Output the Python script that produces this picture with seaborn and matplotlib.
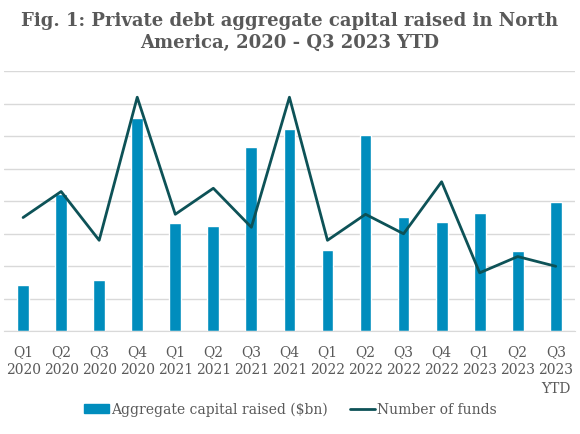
import pandas as pd
import seaborn as sns
import matplotlib.pyplot as plt
from matplotlib.lines import Line2D
from matplotlib.patches import Patch

quarters = ["Q1\n2020", "Q2\n2020", "Q3\n2020", "Q4\n2020",
            "Q1\n2021", "Q2\n2021", "Q3\n2021", "Q4\n2021",
            "Q1\n2022", "Q2\n2022", "Q3\n2022", "Q4\n2022",
            "Q1\n2023", "Q2\n2023", "Q3\n2023\nYTD"]
capital_raised = [14.3, 42.2, 15.9, 65.5, 33.3, 32.3, 56.8, 62.3,
                  25.1, 60.4, 35.3, 33.5, 36.5, 24.7, 39.7]
num_funds = [17.5, 21.5, 14, 36, 18, 22, 16, 36, 14, 18, 15, 23, 9, 11.5, 10]

bar_color = "#008dbd"
line_color = "#0d5257"
text_color = "#595959"

df = pd.DataFrame({"quarter": quarters, "capital": capital_raised, "funds": num_funds})

sns.set_style("white")
plt.rcParams["font.family"] = ["DejaVu Serif"]

fig = plt.figure(figsize=(5.8, 4.35), dpi=100)
ax = fig.add_axes([0.007, 0.236, 0.984, 0.598])

sns.barplot(data=df, x="quarter", y="capital", color=bar_color, width=0.31,
            saturation=1, ax=ax, zorder=2)
ax.set_ylim(0, 80)
ax.set_yticks(range(0, 81, 10))
ax.yaxis.grid(True, color="#d9d9d9", linewidth=1)
ax.set_axisbelow(True)
ax.set_xlim(-0.5, len(quarters) - 0.5)

ax2 = ax.twinx()
sns.lineplot(x=range(len(quarters)), y=df["funds"], color=line_color,
             linewidth=2, ax=ax2)
ax2.set_ylim(0, 40)

for a in (ax, ax2):
    a.set_ylabel("")
    a.set_xlabel("")
    a.set_yticklabels([])
    a.tick_params(left=False, right=False, bottom=False, length=0)
    for s in a.spines.values():
        s.set_visible(False)
ax.spines["bottom"].set_visible(True)
ax.spines["bottom"].set_color("#d9d9d9")

ax.set_xticks(range(len(quarters)))
ax.set_xticklabels(quarters, fontsize=10, color=text_color, linespacing=1.4)
ax.tick_params(axis="x", pad=9)

fig.suptitle("Fig. 1: Private debt aggregate capital raised in North\nAmerica, 2020 - Q3 2023 YTD",
             fontsize=13, fontweight="bold", color=text_color, y=0.972,
             linespacing=1.25)

handles = [Patch(color=bar_color, label="Aggregate capital raised ($bn)"),
           Line2D([0], [0], color=line_color, linewidth=2, label="Number of funds")]
fig.legend(handles=handles, loc="center", bbox_to_anchor=(0.5, 0.057), ncol=2,
           frameon=False, fontsize=10, labelcolor=text_color, handlelength=1.8,
           handletextpad=0.15, columnspacing=1.6)

plt.savefig("out.png", dpi=100)
